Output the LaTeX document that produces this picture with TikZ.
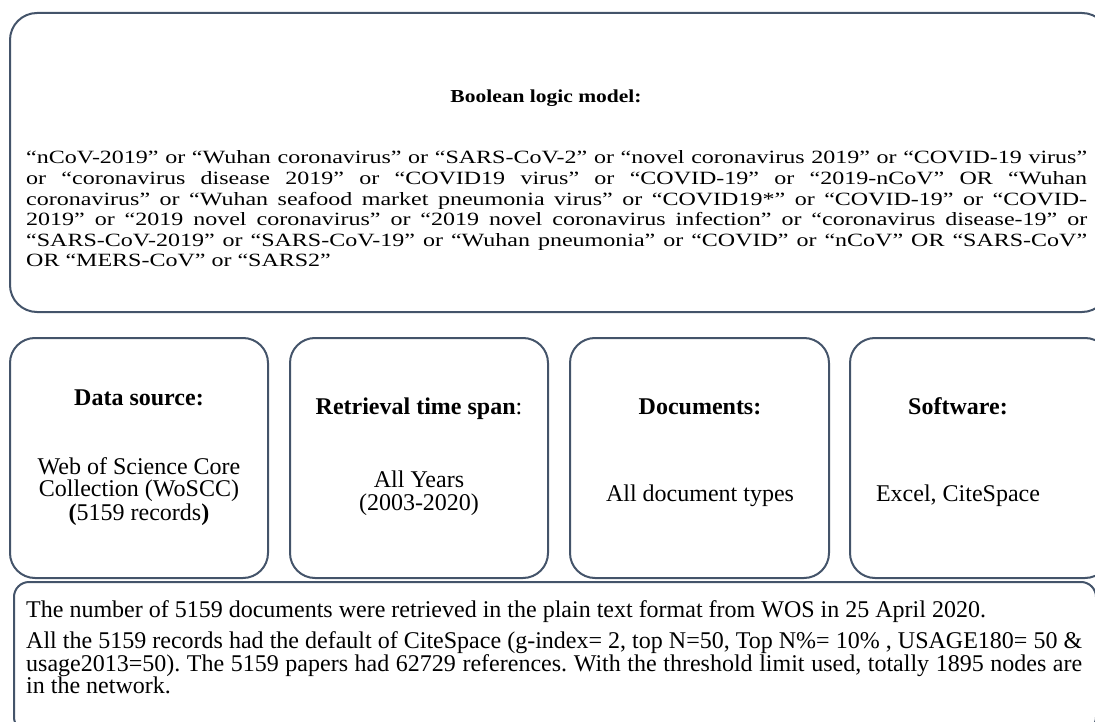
\documentclass[tikz,border=0pt]{standalone}
\usepackage{fontspec}
\setmainfont{Liberation Serif}
\usepackage{graphicx}
\definecolor{edge}{RGB}{68,84,106}
\tikzset{
  box/.style={draw=edge, line width=2pt, rounded corners=#1, inner sep=0pt},
  box/.default=25pt,
  txt/.style={inner sep=0pt, font=\fontsize{24}{25.5}\selectfont},
  hd/.style={inner sep=0pt, font=\bfseries\fontsize{24}{25.5}\selectfont}
}
\newcommand{\sq}[1]{\scalebox{1}[0.78]{#1}}
\frenchspacing
\begin{document}
\begin{tikzpicture}[x=1pt,y=-1pt]
\useasboundingbox (0,0) rectangle (1095,722);
\clip (0,0) rectangle (1095,722);
% boxes
\node[box=27pt, minimum width=1099pt, minimum height=299pt] (top) at (559.5,162.5) {};
\node[box, minimum width=258pt, minimum height=240pt] (b1) at (139,458) {};
\node[box, minimum width=258pt, minimum height=240pt] (b2) at (419,458) {};
\node[box, minimum width=259pt, minimum height=240pt] (b3) at (699.5,458) {};
\node[box, minimum width=260pt, minimum height=240pt] (b4) at (980,458) {};
\node[box=15pt, minimum width=1082pt, minimum height=150pt] (bot) at (555,657) {};
% top text
\node[inner sep=0pt, anchor=base] (title) at (546,103) {\scalebox{1}[0.85]{\bfseries\fontsize{21.5}{24}\selectfont Boolean logic model:}};
\node[txt, anchor=base west] (boolean) at (26,164) {\sq{\parbox[t]{1061pt}{\fontsize{24}{26.4}\selectfont
\tolerance=10000 \hyphenpenalty=10000 \parindent=0pt
“nCoV-2019” or “Wuhan coronavirus” or “SARS-CoV-2” or “novel coronavirus 2019” or “COVID-19 virus”\linebreak
or “coronavirus disease 2019” or “COVID19 virus” or “COVID-19” or “2019-nCoV” OR “Wuhan\linebreak
coronavirus” or “Wuhan seafood market pneumonia virus” or “COVID19*” or “COVID-19” or “COVID-\linebreak
2019” or “2019 novel coronavirus” or “2019 novel coronavirus infection” or “coronavirus disease-19” or\linebreak
“SARS-CoV-2019” or “SARS-CoV-19” or “Wuhan pneumonia” or “COVID” or “nCoV” OR “SARS-CoV”\linebreak
OR “MERS-CoV” or “SARS2”}}};
% four boxes text
\node[hd, anchor=base] (h1) at (139,405) {Data source:};
\node[txt, anchor=base] (t1a) at (139,474) {Web of Science Core};
\node[txt, anchor=base] (t1b) at (139,496) {Collection (WoSCC)};
\node[txt, anchor=base] (t1c) at (139,520) {\textbf{(}5159 records\textbf{)}};
\node[hd, anchor=base] (h2) at (419,414) {Retrieval time span\mdseries:};
\node[txt, anchor=base] (t2a) at (419,487) {All Years};
\node[txt, anchor=base] (t2b) at (419,510) {(2003-2020)};
\node[hd, anchor=base] (h3) at (700,414) {Documents:};
\node[txt, anchor=base] (t3) at (700,501) {All document types};
\node[hd, anchor=base] (h4) at (958,414) {Software:};
\node[txt, anchor=base] (t4) at (958,501) {Excel, CiteSpace};
% bottom text
\node[txt, anchor=base west] (p1) at (26,617) {The number of 5159 documents were retrieved in the plain text format from WOS in 25 April 2020.};
\node[txt, anchor=base west] (p2) at (26,648) {\parbox[t]{1056pt}{\fontsize{24}{22}\selectfont
\tolerance=10000 \hyphenpenalty=10000 \parindent=0pt
All the 5159 records had the default of CiteSpace (g-index= 2, top N=50, Top N\%= 10\% , USAGE180= 50 \&\linebreak
usage2013=50). The 5159 papers had 62729 references. With the threshold limit used, totally 1895 nodes are\linebreak
in the network.}};
\end{tikzpicture}
\end{document}
